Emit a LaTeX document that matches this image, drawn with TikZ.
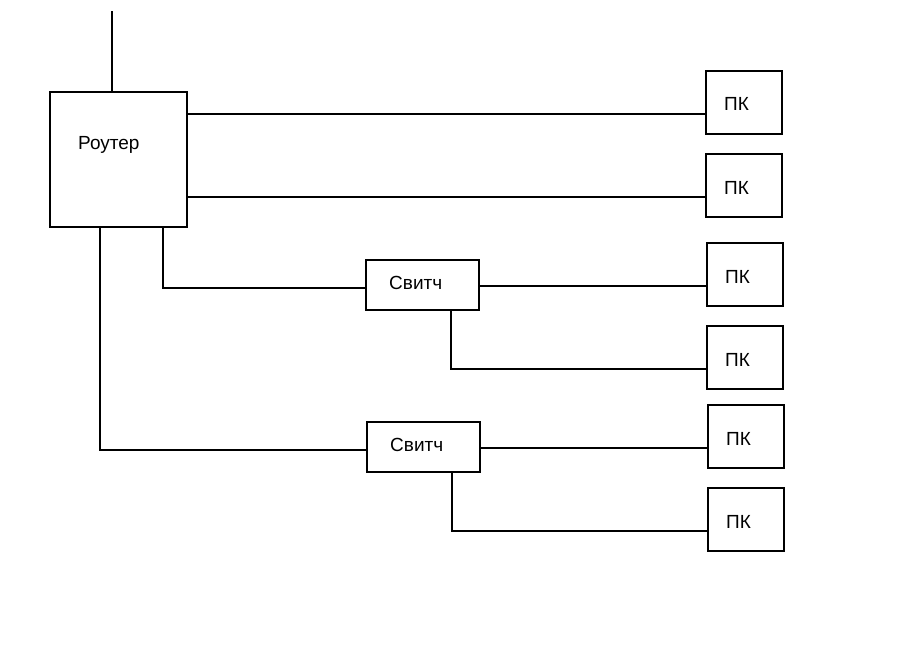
\documentclass[tikz,border=0pt]{standalone}
\usepackage{fontspec}
\setmainfont{Liberation Sans}
\begin{document}
\begin{tikzpicture}[x=1pt,y=-1pt,
  box/.style={draw=black,line width=1.2pt,fill=white,inner sep=0pt,rectangle},
  pcbox/.style={box,minimum width=76pt,minimum height=63pt},
  swbox/.style={box,minimum width=113pt,minimum height=50pt},
  lbl/.style={anchor=base west,inner sep=0pt,font=\fontsize{19}{21}\selectfont},
  wire/.style={line width=1.2pt,line cap=rect}]
\useasboundingbox[fill=white] (0,0) rectangle (911,650);
% boxes
\node[box,minimum width=137pt,minimum height=135pt] (router) at (118.5,159.5) {};
\node[swbox] (sw1) at (422.5,285) {};
\node[swbox] (sw2) at (423.5,447) {};
\node[pcbox] (pc1) at (744,102.5) {};
\node[pcbox] (pc2) at (744,185.5) {};
\node[pcbox] (pc3) at (745,274.5) {};
\node[pcbox] (pc4) at (745,357.5) {};
\node[pcbox] (pc5) at (746,436.5) {};
\node[pcbox] (pc6) at (746,519.5) {};
% labels
\node[lbl] (routerlbl) at (78,149.5) {Роутер};
\node[lbl] (sw1lbl) at (389,289) {Свитч};
\node[lbl] (sw2lbl) at (390,451) {Свитч};
\node[lbl] (pc1lbl) at (724,111) {ПК};
\node[lbl] (pc2lbl) at (724,194) {ПК};
\node[lbl] (pc3lbl) at (725,283) {ПК};
\node[lbl] (pc4lbl) at (725,366) {ПК};
\node[lbl] (pc5lbl) at (726,445) {ПК};
\node[lbl] (pc6lbl) at (726,528) {ПК};
% connectors
\coordinate (uplink) at (112,12);
\draw[wire] (uplink) -- (uplink |- router.north);
\draw[wire] (router.east |- 0,114) -- (pc1.west |- 0,114);
\draw[wire] (router.east |- 0,197) -- (pc2.west |- 0,197);
\draw[wire] (router.south -| 163,0) -- (163,288) -- (sw1.west |- 0,288);
\draw[wire] (router.south -| 100,0) -- (100,450) -- (sw2.west |- 0,450);
\draw[wire] (sw1.east |- 0,286) -- (pc3.west |- 0,286);
\draw[wire] (sw1.south -| 451,0) -- (451,369) -- (pc4.west |- 0,369);
\draw[wire] (sw2.east |- 0,448) -- (pc5.west |- 0,448);
\draw[wire] (sw2.south -| 452,0) -- (452,531) -- (pc6.west |- 0,531);
\end{tikzpicture}
\end{document}
